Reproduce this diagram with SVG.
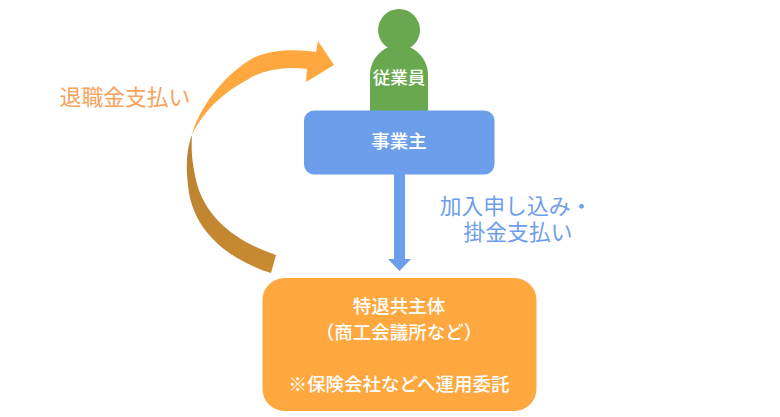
<svg xmlns="http://www.w3.org/2000/svg" width="780" height="417" viewBox="0 0 780 417">
<style>
text{font-family:"Noto Sans CJK JP","Noto Sans",sans-serif;text-anchor:middle}
.w{fill:#fff;font-size:18.500px;font-weight:500}
.l{font-size:21.800px}
.o{fill:#ffa83f}.b{fill:#6d9eeb}.g{fill:#6aa84f}
</style>
<defs><linearGradient id="d" x1="0" y1="0" x2="0" y2="1"><stop offset="0" stop-color="#b8812f"/><stop offset="1" stop-color="#c98a30"/></linearGradient></defs>
<rect width="780" height="417" fill="#fff"/>
<g id="connectors">
<path class="b" d="M394 174H405V259H411L399.500 271L388 259H394Z"/>
<path fill="url(#d)" d="M192 135C186 150 186 170 188 185C192 232 230 260 271 273L276 255C240 243 205 220 196 180C192 162 191 150 192 135Z"/>
<path class="o" d="M192 135C198 110 222 76 253 58C272 49 295 49 316 52L318 41L334 65L306 82L307 69C285 66 262 70 247 80C225 92 205 108 192 135Z"/>
</g>
<g id="employee">
<circle class="g" cx="399" cy="30" r="21"/>
<path class="g" d="M370 111V75C370 58 384 45 399 45C414 45 428 58 428 75V111Z"/>
<text class="w" x="399" y="84" style="font-size:17.500px">従業員</text>
</g>
<g id="employer">
<rect class="b" x="304" y="110.500" width="190.500" height="64" rx="10"/>
<text class="w" x="399" y="148">事業主</text>
</g>
<g id="fund">
<rect class="o" x="262.500" y="278" width="274" height="133" rx="22"/>
<text class="w" x="399" y="313">特退共主体</text>
<text class="w" x="399" y="339">（商工会議所など）</text>
<text class="w" x="399" y="391">※保険会社などへ運用委託</text>
</g>
<g id="labels">
<text class="l" x="125" y="105" fill="#f6a35c">退職金支払い</text>
<text class="l" fill="#6d9eeb"><tspan x="516" y="214">加入申し込み・</tspan><tspan x="518" y="240">掛金支払い</tspan></text>
</g>
</svg>
